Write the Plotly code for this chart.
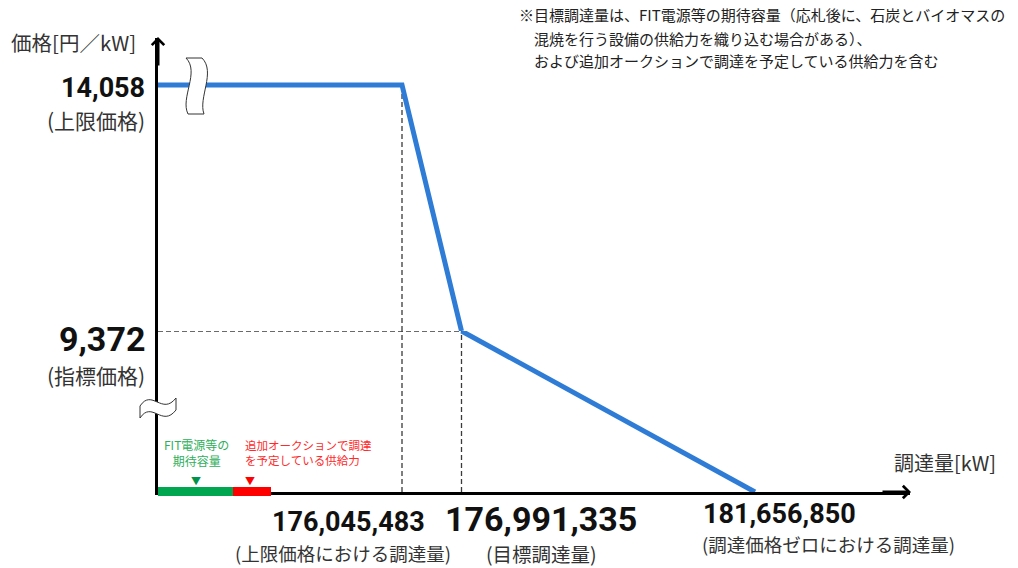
import plotly.graph_objects as go

# ---------------- data ----------------
Q_UPPER_LIMIT = 176045483   # 上限価格における調達量
Q_TARGET = 176991335        # 目標調達量
Q_ZERO = 181656850          # 調達価格ゼロにおける調達量
P_CAP = 14058               # 上限価格
P_INDEX = 9372              # 指標価格
P_ZERO = 0

X_RANGE = [172166786, 184120777]
Y_LOWER_RANGE = [0, 9372]
Y_UPPER_RANGE = [9372, 14953]

q_upper = [X_RANGE[0], Q_UPPER_LIMIT, Q_TARGET]
p_upper = [P_CAP, P_CAP, P_INDEX]
q_lower = [Q_TARGET, Q_ZERO]
p_lower = [P_INDEX, P_ZERO]

# ---------------- layout geometry ----------------
W, H = 1018, 568
ML, MR, MT, MB = 158, 108, 38, 76
PW, PH = W - ML - MR, H - MT - MB
SPLIT = 161 / PH


def px(x):
    return (x - ML) / PW


def py(y):
    return (H - MB - y) / PH


JP = "Noto Sans CJK JP"
NUM = "Roboto"
BLUE = "#2E7CD6"
DASH = "#3a3a3a"
DASHSTYLE = dict(color=DASH, width=1.3, dash="5px,3px")

fig = go.Figure()
fig.add_trace(go.Scatter(x=q_upper, y=p_upper, xaxis="x", yaxis="y2", mode="lines",
                         line=dict(color=BLUE, width=5), hoverinfo="skip", showlegend=False))
fig.add_trace(go.Scatter(x=q_lower, y=p_lower, xaxis="x", yaxis="y", mode="lines",
                         line=dict(color=BLUE, width=5), hoverinfo="skip", showlegend=False))

shapes = []
# dashed guide lines
shapes.append(dict(type="line", xref="x", yref="y", x0=Q_UPPER_LIMIT, x1=Q_UPPER_LIMIT,
                   y0=P_ZERO, y1=P_INDEX, line=DASHSTYLE, layer="below"))
shapes.append(dict(type="line", xref="x", yref="y2", x0=Q_UPPER_LIMIT, x1=Q_UPPER_LIMIT,
                   y0=P_INDEX, y1=P_CAP, line=DASHSTYLE, layer="below"))
shapes.append(dict(type="line", xref="x", yref="y", x0=Q_TARGET, x1=Q_TARGET,
                   y0=P_ZERO, y1=P_INDEX, line=DASHSTYLE, layer="below"))
shapes.append(dict(type="line", xref="x", yref="y", x0=X_RANGE[0], x1=Q_TARGET,
                   y0=P_INDEX, y1=P_INDEX, line=DASHSTYLE, layer="below"))

# capacity bars on the x axis (schematic)
shapes.append(dict(type="rect", xref="paper", yref="paper", x0=px(158), x1=px(233),
                   ysizemode="pixel", yanchor=0, y0=-4, y1=5,
                   fillcolor="#00A650", line=dict(width=0), layer="above"))
shapes.append(dict(type="rect", xref="paper", yref="paper", x0=px(233), x1=px(271),
                   ysizemode="pixel", yanchor=0, y0=-4, y1=5,
                   fillcolor="#FF0000", line=dict(width=0), layer="above"))

# axis break marks
shapes.append(dict(type="path", xref="paper", yref="paper",
                   xsizemode="pixel", ysizemode="pixel", xanchor=px(198), yanchor=py(86),
                   path="M -12,28 C 2,14 -18,-12 -10,-28 L 6,-28 C 0,-12 18,14 4,28 Z",
                   fillcolor="white", line=dict(color="#333", width=1), layer="above"))
shapes.append(dict(type="path", xref="paper", yref="paper",
                   xsizemode="pixel", ysizemode="pixel", xanchor=0, yanchor=py(408),
                   path="M -18,2 C -6,20 4,-8 18,10 L 18,-2 C 4,-20 -6,8 -18,-10 Z",
                   fillcolor="white", line=dict(color="#333", width=1), layer="above"))

ann = []


def text(x, y, s, size, color="#1a1a1a", bold=False, xanchor="center", family=JP, align="center"):
    if bold:
        s = "<b>" + s + "</b>"
    ann.append(dict(xref="paper", yref="paper", x=px(x), y=py(y), text=s, showarrow=False,
                    xanchor=xanchor, yanchor="middle", align=align, borderpad=0,
                    font=dict(family=family, size=size, color=color)))


# axis arrows
ann.append(dict(xref="paper", yref="paper", x=0, y=py(37), ax=0, ay=30, axref="pixel", ayref="pixel",
                text="", showarrow=True, arrowhead=4, arrowsize=0.8, arrowwidth=3, arrowcolor="black"))
ann.append(dict(xref="paper", yref="paper", x=px(911), y=0, ax=-30, ay=0, axref="pixel", ayref="pixel",
                text="", showarrow=True, arrowhead=4, arrowsize=0.8, arrowwidth=3, arrowcolor="black"))

# axis titles
text(73, 42, "価格[円／kW]", 20.5, color="#333")
text(945, 462, "調達量[kW]", 20, color="#333")

# y labels
text(146, 88, f"{P_CAP:,}", 27, bold=True, xanchor="right", family=NUM, color="#111")
text(146, 120, "(上限価格)", 21, color="#333", xanchor="right")
text(146, 339, f"{P_INDEX:,}", 34, bold=True, xanchor="right", family=NUM, color="#111")
text(146, 375, "(指標価格)", 21, color="#333", xanchor="right")

# x labels
text(348, 522, f"{Q_UPPER_LIMIT:,}", 27, bold=True, family=NUM, color="#111")
text(343, 553, "(上限価格における調達量)", 18.5, color="#333")
text(541, 519, f"{Q_TARGET:,}", 34, bold=True, family=NUM, color="#111")
text(541, 553.5, "(目標調達量)", 19.5, color="#333")
text(779, 514, f"{Q_ZERO:,}", 27, bold=True, family=NUM, color="#111")
text(828, 544, "(調達価格ゼロにおける調達量)", 18.5, color="#333")

# note
text(518, 15, "※目標調達量は、FIT電源等の期待容量（応札後に、石炭とバイオマスの", 15, xanchor="left", color="#222")
text(533, 38, "混焼を行う設備の供給力を織り込む場合がある）、", 15, xanchor="left", color="#222")
text(533, 60, "および追加オークションで調達を予定している供給力を含む", 15, xanchor="left", color="#222")

# bar labels
text(196, 452, "FIT電源等の<br>期待容量", 12, color="#2FAF5C")
text(244, 452, "追加オークションで調達<br>を予定している供給力", 11.5, color="#FF2A2A", xanchor="left", align="left")
text(196, 480, "▼", 10, color="#00934A")
text(250, 480, "▼", 10, color="#FF0000")

fig.update_layout(
    width=W, height=H,
    margin=dict(l=ML, r=MR, t=MT, b=MB),
    paper_bgcolor="white", plot_bgcolor="white",
    showlegend=False,
    xaxis=dict(range=X_RANGE, showgrid=False, zeroline=False, showticklabels=False, ticks="",
               showline=True, linecolor="black", linewidth=3, anchor="y"),
    yaxis=dict(range=Y_LOWER_RANGE, domain=[0, SPLIT], showgrid=False, zeroline=False,
               showticklabels=False, ticks="", showline=True, linecolor="black", linewidth=3, anchor="x"),
    yaxis2=dict(range=Y_UPPER_RANGE, domain=[SPLIT, 1], showgrid=False, zeroline=False,
                showticklabels=False, ticks="", showline=True, linecolor="black", linewidth=3, anchor="x"),
    shapes=shapes,
    annotations=ann,
)

fig.write_html("out.html")
